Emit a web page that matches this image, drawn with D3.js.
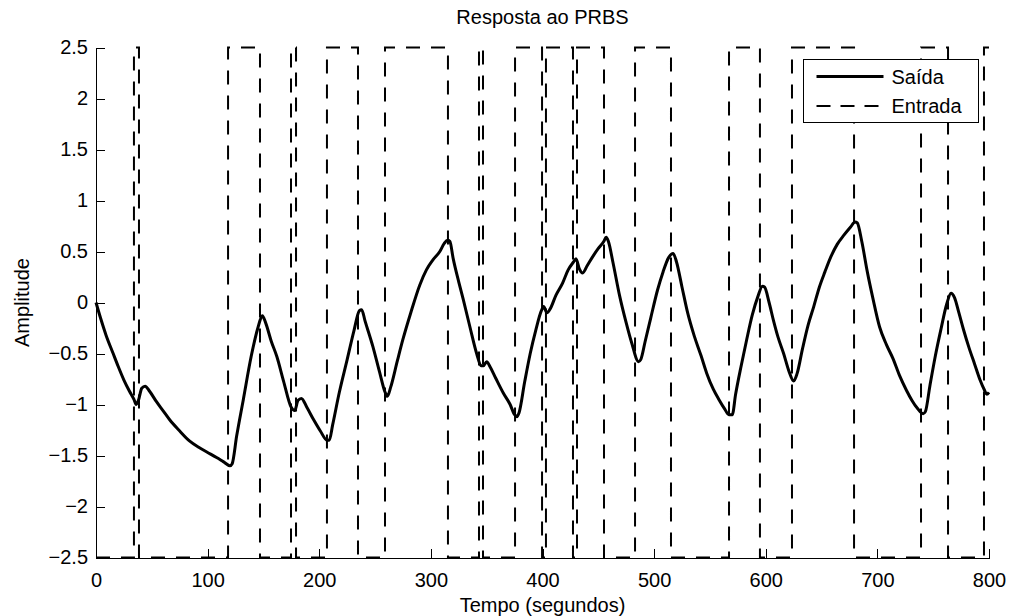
<!DOCTYPE html>
<html lang="pt">

<head>
  <meta charset="UTF-8">
  <title>Resposta ao PRBS</title>
  <style>
    body {
      margin: 0;
      background: #fff;
      overflow: hidden;
    }

    svg {
      font-family: "Liberation Sans", Arial, Helvetica, sans-serif;
    }

    .axis path,
    .axis line {
      stroke: #000;
      stroke-width: 1;
      shape-rendering: crispEdges;
    }

    .axis text {
      font-size: 20px;
      fill: #000;
    }
  </style>
  <script src="https://d3js.org/d3.v7.min.js"></script>
</head>

<body>
  <svg width="1010" height="616"></svg>
  <script>
    // saida (output): time in s, amplitude
    const outT = [0, 4, 9, 15, 20, 25, 30, 34, 36, 38, 41, 44, 48, 54, 60, 66, 75, 84, 92, 100, 108, 114, 120, 122,
      126, 132, 139, 145, 149, 152, 157, 162, 168, 175, 178, 181, 184, 189, 195, 201, 207, 209, 212, 218, 225, 231,
      236, 238, 241, 248, 254, 259, 261, 264, 270, 275, 282, 290, 296, 302, 308, 312, 315, 317, 320, 325, 329, 335,
      341, 345, 347, 350, 353, 358, 365, 371, 375, 377, 379, 384, 389, 394, 399, 401, 404, 407, 412, 418, 423, 428,
      430, 433, 436, 440, 445, 450, 455, 457, 459, 463, 469, 475, 480, 486, 488, 492, 497, 503, 508, 513, 517, 520,
      525, 530, 536, 542, 547, 553, 558, 563, 567, 570, 573, 578, 583, 588, 593, 597, 599, 603, 607, 611, 616, 621,
      625, 628, 633, 638, 643, 648, 653, 658, 664, 670, 676, 680, 682, 686, 691, 696, 702, 708, 714, 720, 726, 731,
      736, 741, 743, 747, 752, 757, 762, 766, 769, 773, 777, 782, 787, 792, 796, 798, 800];
    const outV = [0, -0.15, -0.32, -0.49, -0.63, -0.76, -0.87, -0.95, -1.0, -0.96, -0.84, -0.82, -0.87, -0.97, -1.06,
      -1.15, -1.26, -1.36, -1.42, -1.47, -1.52, -1.56, -1.6, -1.58, -1.31, -0.95, -0.53, -0.25, -0.13, -0.2, -0.38,
      -0.53, -0.77, -1.03, -1.06, -0.96, -0.94, -1.03, -1.15, -1.26, -1.35, -1.35, -1.2, -0.88, -0.56, -0.28, -0.08,
      -0.07, -0.18, -0.43, -0.68, -0.88, -0.92, -0.83, -0.57, -0.36, -0.1, 0.17, 0.32, 0.42, 0.5, 0.58, 0.61, 0.6,
      0.43, 0.2, 0.03, -0.24, -0.5, -0.62, -0.62, -0.58, -0.63, -0.74, -0.89, -1.0, -1.1, -1.12, -1.08, -0.78, -0.5,
      -0.27, -0.08, -0.04, -0.1, -0.06, 0.07, 0.19, 0.32, 0.4, 0.43, 0.33, 0.29, 0.36, 0.45, 0.53, 0.6, 0.64, 0.6,
      0.4, 0.07, -0.2, -0.4, -0.58, -0.56, -0.38, -0.15, 0.12, 0.3, 0.44, 0.48, 0.4, 0.15, -0.1, -0.33, -0.52, -0.69,
      -0.85, -0.95, -1.04, -1.1, -1.1, -0.9, -0.62, -0.36, -0.12, 0.06, 0.16, 0.15, 0.0, -0.18, -0.34, -0.5, -0.68,
      -0.77, -0.7, -0.45, -0.22, -0.04, 0.15, 0.3, 0.44, 0.57, 0.66, 0.74, 0.79, 0.78, 0.6, 0.3, 0.04, -0.24, -0.41,
      -0.55, -0.72, -0.86, -0.96, -1.04, -1.09, -1.07, -0.82, -0.52, -0.26, -0.02, 0.09, 0.05, -0.1, -0.26, -0.44,
      -0.6, -0.76, -0.86, -0.9, -0.88];

    // entrada (PRBS input): switching instants and the level held from each one
    const inT = [0, 34, 38.5, 118.3, 146.9, 174.7, 179.2, 206.9, 234.7, 258.9, 315.3, 343.1, 346.7, 375.4, 399.6,
      403.1, 427.3, 430.9, 455.1, 482.9, 515.1, 567.1, 594.8, 623.5, 679.1, 739.1, 763.3, 795.5, 800];
    const inV = [-2.5, 2.5, -2.5, 2.5, -2.5, 2.5, -2.5, 2.5, -2.5, 2.5, -2.5, 2.5, -2.5, 2.5, -2.5,
      2.5, -2.5, 2.5, -2.5, 2.5, -2.5, 2.5, -2.5, 2.5, -2.5, 2.5, -2.5, 2.5, 2.5];

    const xTicks = [0, 100, 200, 300, 400, 500, 600, 700, 800];
    const yTicks = [-2.5, -2, -1.5, -1, -0.5, 0, 0.5, 1, 1.5, 2, 2.5];
    const seriesNames = ["Saída", "Entrada"];

    const svg = d3.select("svg");
    const margin = { top: 47.5, right: 21, bottom: 58.5, left: 96 };
    const W = 1010, H = 616;

    const x = d3.scaleLinear().domain([0, 800]).range([margin.left, W - margin.right]);
    const y = d3.scaleLinear().domain([-2.5, 2.5]).range([H - margin.bottom, margin.top]);

    const out = outT.map((t, i) => [t, outV[i]]);
    const inp = inT.map((t, i) => [t, inV[i]]);

    // axes, ticks pointing inward like matlab
    svg.append("g")
      .attr("class", "axis")
      .attr("transform", `translate(0,${y(-2.5)})`)
      .call(d3.axisBottom(x).tickValues(xTicks).tickSizeInner(-9).tickSizeOuter(0).tickPadding(15)
        .tickFormat(d3.format("~g")));

    svg.append("g")
      .attr("class", "axis")
      .attr("transform", `translate(${x(0)},0)`)
      .call(d3.axisLeft(y).tickValues(yTicks).tickSizeInner(-9).tickSizeOuter(0).tickPadding(8)
        .tickFormat(d3.format("~g")));

    const line = d3.line().x(d => x(d[0])).y(d => y(d[1]));

    svg.append("path")
      .datum(inp)
      .attr("d", line.curve(d3.curveStepAfter))
      .attr("fill", "none")
      .attr("stroke", "#000")
      .attr("stroke-width", 2)
      .attr("stroke-dasharray", "14,11");

    svg.append("path")
      .datum(out)
      .attr("d", d3.line().x(d => x(d[0])).y(d => y(d[1])).curve(d3.curveMonotoneX))
      .attr("fill", "none")
      .attr("stroke", "#000")
      .attr("stroke-width", 3)
      .attr("stroke-linejoin", "round");

    // titles
    svg.append("text")
      .attr("x", (x(0) + x(800)) / 2)
      .attr("y", 24)
      .attr("text-anchor", "middle")
      .attr("font-size", 20)
      .text("Resposta ao PRBS");

    svg.append("text")
      .attr("x", (x(0) + x(800)) / 2)
      .attr("y", 612)
      .attr("text-anchor", "middle")
      .attr("font-size", 20)
      .text("Tempo (segundos)");

    svg.append("text")
      .attr("transform", `translate(29,${(y(2.5) + y(-2.5)) / 2}) rotate(-90)`)
      .attr("text-anchor", "middle")
      .attr("font-size", 20)
      .text("Amplitude");

    // legend
    const lg = svg.append("g").attr("transform", "translate(803.5,59.5)");
    lg.append("rect")
      .attr("width", 175)
      .attr("height", 63)
      .attr("fill", "#fff")
      .attr("stroke", "#000")
      .attr("stroke-width", 1);

    seriesNames.forEach((name, i) => {
      const yy = 17 + i * 29.5;
      lg.append("line")
        .attr("x1", 13).attr("x2", 80)
        .attr("y1", yy).attr("y2", yy)
        .attr("stroke", "#000")
        .attr("stroke-width", i === 0 ? 3 : 2)
        .attr("stroke-dasharray", i === 0 ? null : "14,10");
      lg.append("text")
        .attr("x", 88)
        .attr("y", yy + 7)
        .attr("font-size", 20)
        .text(name);
    });
  </script>
</body>

</html>
